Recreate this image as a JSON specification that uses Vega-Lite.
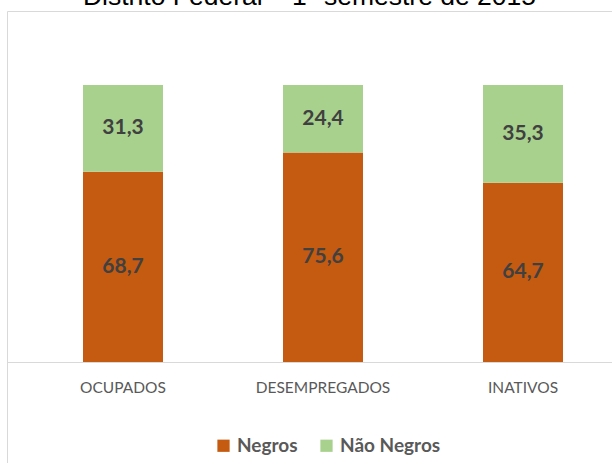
{
  "$schema": "https://vega.github.io/schema/vega-lite/v6.json",
  "autosize": {"type": "none"},
  "padding": {"left": 7, "top": 11, "right": 0, "bottom": 0},
  "width": 605,
  "height": 452,
  "background": "white",
  "title": {
    "text": "Distrito Federal – 1º semestre de 2015",
    "font": "Liberation Sans",
    "fontSize": 26.5,
    "fontWeight": "normal",
    "color": "#000000",
    "anchor": "middle",
    "baseline": "top",
    "offset": 1
  },
  "config": {
    "view": {"stroke": null},
    "locale": {"number": {"decimal": ",", "thousands": ".", "grouping": [3], "currency": ["R$", ""]}}
  },
  "data": {
    "values": [
      {"categoria": "OCUPADOS", "serie": "Negros", "valor": 68.7},
      {"categoria": "OCUPADOS", "serie": "Não Negros", "valor": 31.3},
      {"categoria": "DESEMPREGADOS", "serie": "Negros", "valor": 75.6},
      {"categoria": "DESEMPREGADOS", "serie": "Não Negros", "valor": 24.4},
      {"categoria": "INATIVOS", "serie": "Negros", "valor": 64.7},
      {"categoria": "INATIVOS", "serie": "Não Negros", "valor": 35.3}
    ]
  },
  "transform": [
    {"stack": "valor", "groupby": ["categoria"], "sort": [{"field": "serie", "order": "ascending"}], "as": ["v0", "v1"]},
    {"calculate": "(datum.v0 + datum.v1) / 2", "as": "meio"}
  ],
  "layer": [
    {
      "mark": {"type": "bar"},
      "encoding": {
        "x": {
          "field": "categoria",
          "type": "nominal",
          "sort": ["OCUPADOS", "DESEMPREGADOS", "INATIVOS"],
          "scale": {"paddingInner": 0.6, "paddingOuter": 0.3125, "align": 0.608},
          "axis": {
            "orient": "bottom",
            "offset": -101,
            "domainColor": "#d9d9d9",
            "domainWidth": 1,
            "ticks": false,
            "tickSize": 0,
            "labelPadding": 25,
            "labelBaseline": "middle",
            "labelFont": "Lato",
            "labelFontSize": 15.5,
            "labelColor": "#595959",
            "labelAngle": 0,
            "title": null,
            "grid": false
          }
        },
        "y": {
          "field": "v1",
          "type": "quantitative",
          "scale": {"domain": [-36.46, 126.715], "nice": false, "zero": false},
          "axis": {"orient": "left", "domainColor": "#d9d9d9", "domainWidth": 1, "ticks": false, "labels": false, "grid": false, "title": null}
        },
        "y2": {"field": "v0"},
        "color": {
          "field": "serie",
          "type": "nominal",
          "scale": {"domain": ["Negros", "Não Negros"], "range": ["#C55A11", "#A9D18E"]},
          "legend": {
            "orient": "none",
            "legendX": 207,
            "legendY": 425,
            "direction": "horizontal",
            "title": null,
            "symbolType": "square",
            "symbolSize": 150,
            "symbolStrokeWidth": 0,
            "symbolOpacity": 1,
            "labelFont": "Lato",
            "labelFontSize": 19,
            "labelFontWeight": "bold",
            "labelColor": "#595959",
            "labelOffset": 4,
            "columnPadding": 19,
            "padding": 0
          }
        }
      }
    },
    {
      "mark": {"type": "text", "font": "Lato", "fontWeight": "bold", "fontSize": 21, "color": "#404040", "baseline": "middle"},
      "encoding": {
        "x": {
          "field": "categoria",
          "type": "nominal",
          "sort": ["OCUPADOS", "DESEMPREGADOS", "INATIVOS"],
          "axis": {"orient": "top", "domainColor": "#d9d9d9", "domainWidth": 1, "ticks": false, "labels": false, "grid": false, "title": null}
        },
        "y": {"field": "meio", "type": "quantitative"},
        "text": {"field": "valor", "type": "quantitative", "format": ".1f"}
      }
    }
  ]
}
